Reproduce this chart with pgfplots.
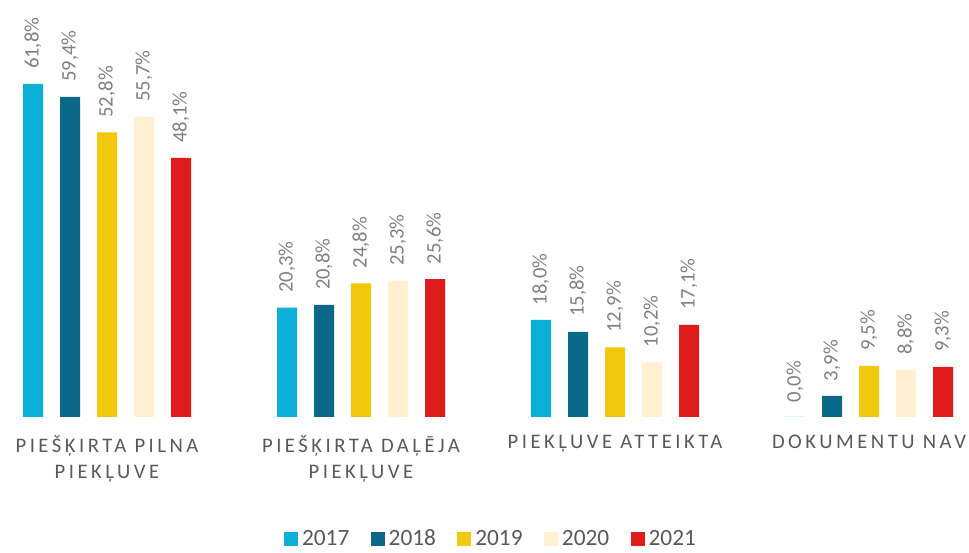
\documentclass[border=0pt]{standalone}
\usepackage{fontspec}
\setmainfont{Carlito}
\usepackage{pgfplots}
\pgfplotsset{compat=1.18}
\definecolor{c17}{HTML}{0BB0D8}
\definecolor{c18}{HTML}{0B6888}
\definecolor{c19}{HTML}{F1C80C}
\definecolor{c20}{HTML}{FFF0D2}
\definecolor{c21}{HTML}{DF1B1B}
\definecolor{lbl}{HTML}{808080}
\definecolor{txt}{HTML}{595959}
\begin{document}
\begin{tikzpicture}
\begin{axis}[
  scale only axis, width=726.75pt, height=410.25pt,
  xmin=-0.4213, xmax=3.3937, ymin=-24.12, ymax=77.37,
  axis x line=middle, axis y line=none, axis line style={draw=none}, clip=false,
  major tick length=0pt, ytick=\empty,
  ybar=12.75pt, bar width=15pt,
  xtick={0,1,2,3},
  xticklabels={PIEŠĶIRTA PILNA\\PIEKĻUVE, PIEŠĶIRTA DAĻĒJA\\PIEKĻUVE, PIEKĻUVE ATTEIKTA, DOKUMENTU NAV},
  xticklabel style={align=center, anchor=north, inner sep=0pt, yshift=-13.5pt, text=txt,
    font=\fontsize{15.5}{19.5}\selectfont\addfontfeature{LetterSpace=17}},
  nodes near coords={\pgfmathprintnumber{\pgfplotspointmeta}\%},
  /pgf/number format/.cd, use comma, fixed, fixed zerofill, precision=1, assume math mode=true, /pgfplots/.cd,
  every node near coord/.append style={rotate=90, anchor=west, inner ysep=0pt, inner xsep=11pt, text=lbl, font=\fontsize{15.5}{18}\selectfont},
  legend columns=5,
  legend style={draw=none, fill=none, at={(0.5077,0.0152)}, anchor=center, text=txt,
    font=\fontsize{17.5}{19}\selectfont, nodes={inner xsep=3pt},
    /tikz/every even column/.append style={column sep=13pt}},
  legend image code/.code={\fill[#1] (0pt,-5.25pt) rectangle (10.5pt,5.25pt);},
]
\path (rel axis cs:0,0) rectangle (rel axis cs:1,1);
\addplot[fill=c17, draw=none] coordinates {(0,61.8) (1,20.3) (2,18.0) (3,0.0)};
\addplot[fill=c18, draw=none] coordinates {(0,59.4) (1,20.8) (2,15.8) (3,3.9)};
\addplot[fill=c19, draw=none] coordinates {(0,52.8) (1,24.8) (2,12.9) (3,9.5)};
\addplot[fill=c20, draw=none] coordinates {(0,55.7) (1,25.3) (2,10.2) (3,8.8)};
\addplot[fill=c21, draw=none] coordinates {(0,48.1) (1,25.6) (2,17.1) (3,9.3)};
\legend{2017,2018,2019,2020,2021}
\end{axis}
\end{tikzpicture}
\end{document}
